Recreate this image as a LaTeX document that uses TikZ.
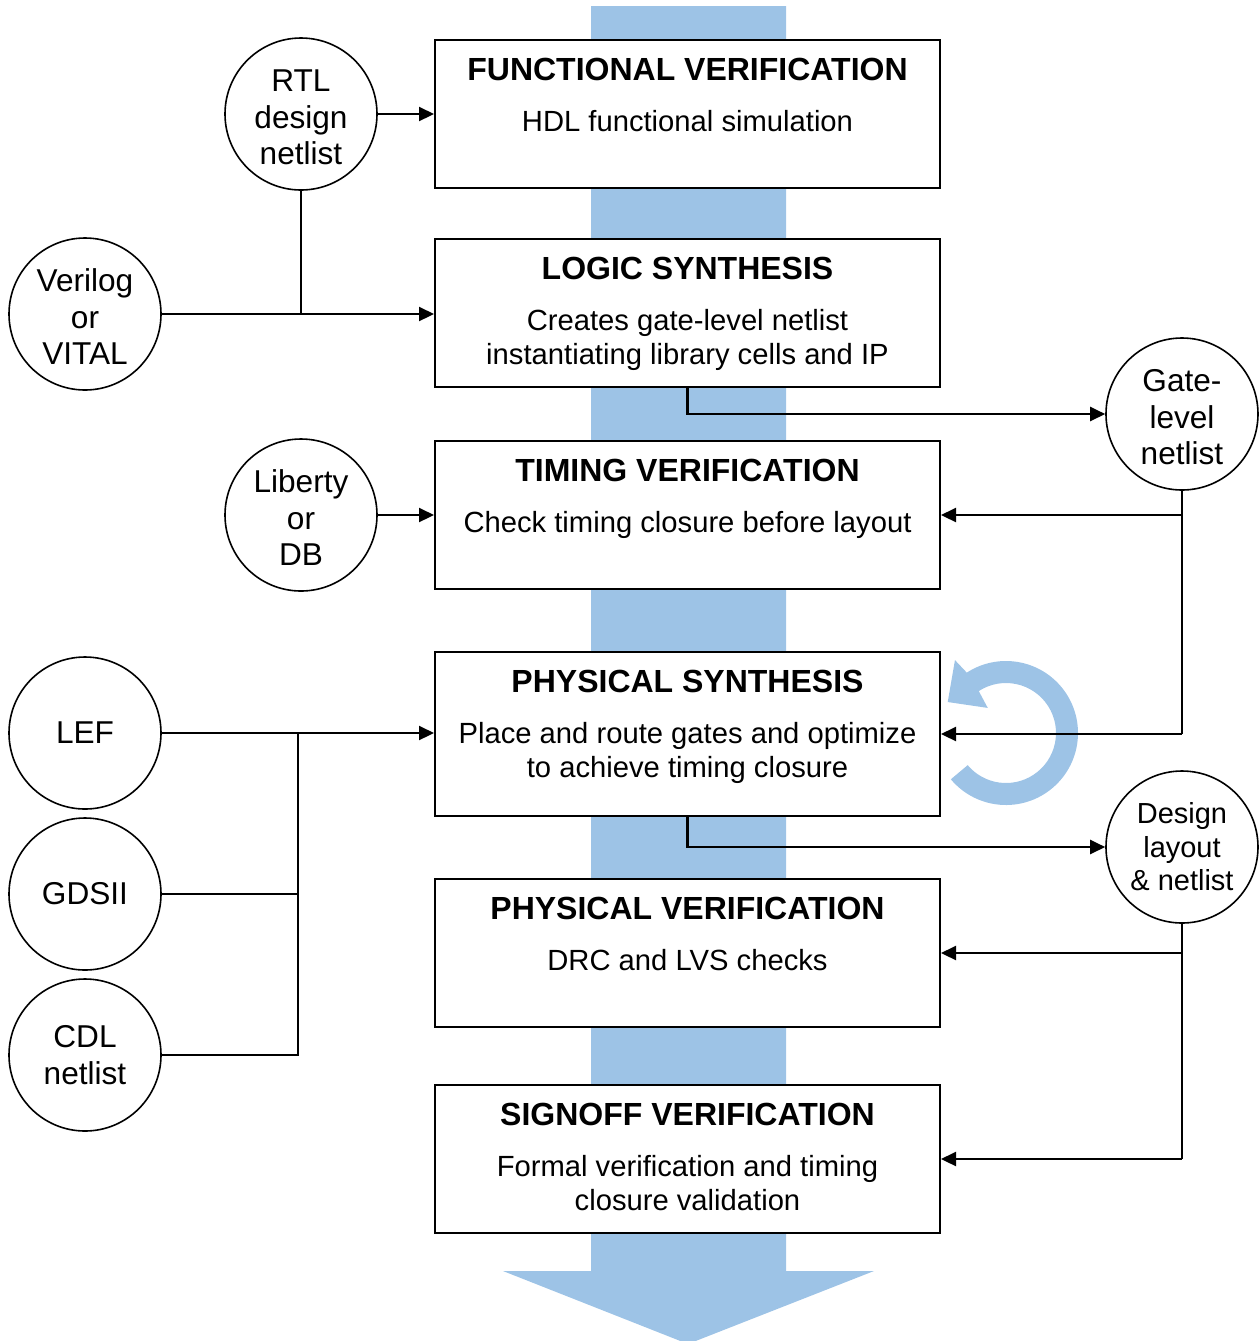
\documentclass[tikz,border=0pt]{standalone}
\usepackage{fontspec}
\setmainfont{Liberation Sans}
\usetikzlibrary{arrows.meta}
\definecolor{flowblue}{RGB}{157,195,230}
\newcommand{\toplift}{\rule{0pt}{14.3pt}}
\begin{document}
\begin{tikzpicture}[x=0.5pt,y=-0.5pt,
  box/.style={draw=black, line width=1pt, fill=white, minimum width=252.5pt, minimum height=74pt, inner sep=0pt},
  ttl/.style={font=\fontsize{16}{19}\selectfont\bfseries, anchor=base, inner sep=0pt},
  body/.style={font=\fontsize{14.6}{17}\selectfont, anchor=base, inner sep=0pt},
  src/.style={circle, draw=black, line width=0.8pt, fill=white, minimum size=76pt, inner sep=0pt, align=center, font=\fontsize{15.8}{18.25}\selectfont},
  srcsmall/.style={src, font=\fontsize{14.5}{16.75}\selectfont},
  conn/.style={draw=black, line width=1.1pt},
  arr/.style={conn, -{Triangle[length=7.5pt,width=7pt]}}
]
\useasboundingbox (0,0) rectangle (1260,1341);
% flow band
\fill[flowblue] (591,6) -- (786,6) -- (786,1271) -- (874,1271) -- (688,1344) -- (503,1271) -- (591,1271) -- cycle;

% boxes
\node[box] (b1) at (687.5,113.5) {};
\node[box] (b2) at (687.5,313) {};
\node[box] (b3) at (687.5,515) {};
\node[box, minimum height=82pt] (b4) at (687.5,734) {};
\node[box] (b5) at (687.5,953) {};
\node[box] (b6) at (687.5,1159) {};

% texts
\node[ttl] (t1) at (687.5,80.5) {FUNCTIONAL VERIFICATION};
\node[body] (d1) at (687.5,131.5) {HDL functional simulation};
\node[ttl] (t2) at (687.5,279.5) {LOGIC SYNTHESIS};
\node[body] (d2a) at (687.5,330.5) {Creates gate-level netlist};
\node[body] (d2b) at (687.5,364.5) {instantiating library cells and IP};
\node[ttl] (t3) at (687.5,481.5) {TIMING VERIFICATION};
\node[body] (d3) at (687.5,532.5) {Check timing closure before layout};
\node[ttl] (t4) at (687.5,692.5) {PHYSICAL SYNTHESIS};
\node[body] (d4a) at (687.5,743.5) {Place and route gates and optimize};
\node[body] (d4b) at (687.5,777.5) {to achieve timing closure};
\node[ttl] (t5) at (687.5,919.5) {PHYSICAL VERIFICATION};
\node[body] (d5) at (687.5,970.5) {DRC and LVS checks};
\node[ttl] (t6) at (687.5,1125.5) {SIGNOFF VERIFICATION};
\node[body] (d6a) at (687.5,1176.5) {Formal verification and timing};
\node[body] (d6b) at (687.5,1210.5) {closure validation};

% circular arrow
\begin{scope}[shift={(1006,733)}, yscale=-1]
\fill[flowblue] (220:72) arc[start angle=220, end angle=483, radius=72]
  -- (485:89) -- (152:66) -- (486:31) -- (483:50)
  arc[start angle=483, end angle=220, radius=50] -- cycle;
\end{scope}

% source circles
\node[src] (rtl) at (301,114) {\toplift RTL\\design\\netlist};
\node[src] (ver) at (85,314) {\toplift Verilog\\or\\VITAL};
\node[src] (lib) at (301,515) {\toplift Liberty\\or\\DB};
\node[src] (gate) at (1182,414) {\toplift Gate-\\level\\netlist};
\node[src] (lef) at (85,733) {LEF};
\node[src] (gds) at (85,894) {GDSII};
\node[src] (cdl) at (85,1055) {CDL\\netlist};
\node[srcsmall] (des) at (1182,847) {Design\\layout\\\& netlist};
\coordinate (jn) at (298,733);

% connectors
\draw[arr] (rtl.east) -- (rtl.east -| b1.west);
\draw[conn] (rtl.south) -- (rtl.south |- ver.east);
\draw[arr] (ver.east) -- (ver.east -| b2.west);
\draw[arr] (b2.south) |- (gate.west);
\draw[conn] (gate.south) -- (gate.south |- b4.east);
\draw[arr] (gate.south |- b3.east) -- (b3.east);
\draw[arr] (gate.south |- b4.east) -- (b4.east);
\draw[arr] (lib.east) -- (lib.east -| b3.west);
\draw[arr] (lef.east) -- (lef.east -| b4.west);
\draw[conn] (gds.east) -- (gds.east -| jn);
\draw[conn] (cdl.east) -| (jn);
\draw[arr] (b4.south) |- (des.west);
\draw[conn] (des.south) -- (des.south |- b6.east);
\draw[arr] (des.south |- b5.east) -- (b5.east);
\draw[arr] (des.south |- b6.east) -- (b6.east);
\end{tikzpicture}
\end{document}
